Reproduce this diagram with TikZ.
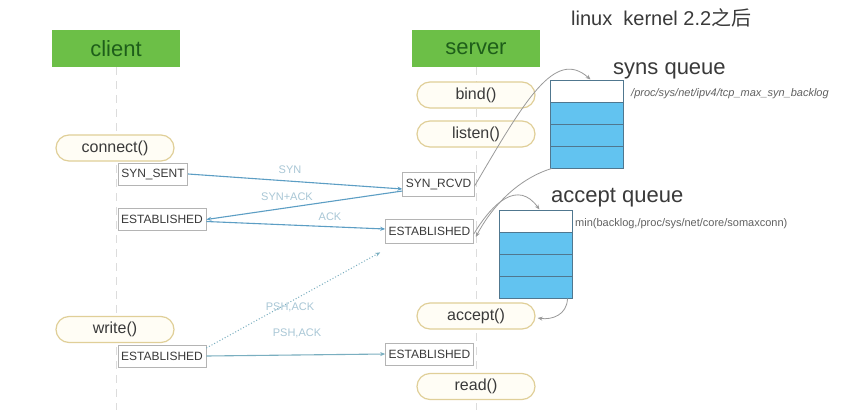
\documentclass[tikz,border=0pt]{standalone}
\usepackage{fontspec}
\setmainfont{Liberation Sans}
\newfontfamily\cjk{Noto Sans CJK SC}
\usetikzlibrary{arrows.meta,backgrounds}
\definecolor{hdrgreen}{HTML}{6CBF47}
\definecolor{hdrtext}{HTML}{1E5E1A}
\definecolor{pillborder}{HTML}{E0CF98}
\definecolor{pillfill}{HTML}{FFFDF5}
\definecolor{boxborder}{HTML}{B4B4B4}
\definecolor{txtdark}{HTML}{3A3A3A}
\definecolor{arrowblue}{HTML}{5C9EC4}
\definecolor{arrowteal}{HTML}{7AAFC0}
\definecolor{lblblue}{HTML}{A9C7D6}
\definecolor{qblue}{HTML}{62C3F0}
\definecolor{qborder}{HTML}{50778F}
\definecolor{curvegray}{HTML}{9A9A9A}
\definecolor{lifeline}{HTML}{DCDCDC}
\newcommand{\fs}[1]{\fontsize{#1}{#1}\selectfont}
\tikzset{
  hdr/.style={fill=hdrgreen, draw=none, minimum width=128pt, minimum height=37pt, inner sep=0pt, text=hdrtext, font=\fs{22}},
  pill/.style={fill=pillfill, draw=pillborder, line width=1.2pt, rounded corners=13pt, minimum width=118pt, minimum height=26pt, inner sep=0pt, text=txtdark, font=\fs{16}},
  statebox/.style={fill=white, draw=boxborder, line width=0.8pt, minimum height=22pt, inner xsep=3pt, inner ysep=0pt, text=txtdark, font=\fs{12}},
  msg/.style={draw=arrowblue, line width=1.1pt, -{Stealth[length=5pt,width=4pt]}},
  msglbl/.style={text=lblblue, font=\fs{11}, inner sep=0pt},
  gcurve/.style={draw=curvegray, line width=0.8pt, -{Stealth[length=5pt,width=4pt]}},
  qtitle/.style={font=\fs{22}, text=txtdark, inner sep=0pt},
  qnote/.style={font=\fs{11}\itshape, text=txtdark!80, inner sep=0pt},
  life/.style={draw=lifeline, line width=1pt, dash pattern=on 8pt off 6pt},
}
\begin{document}
\begin{tikzpicture}[x=1pt,y=-1pt]
\useasboundingbox (0,0) rectangle (852,410);

% headers
\node[hdr] (client) at (116,48.5) {client};
\node[hdr] (server) at (476,48.5) {server};
\node[anchor=west, inner sep=0pt, text=txtdark, font=\fs{20}] (title) at (571,18) {linux\ \ kernel 2.2{\cjk 之后}};

% end points of lifelines
\coordinate (cend) at (116,410);
\coordinate (send) at (476,410);

% pills
\node[pill] (bind) at (476,95) {bind()};
\node[pill] (listen) at (476,134) {listen()};
\node[pill] (connect) at (115,148) {connect()};
\node[pill] (accept) at (476,316) {accept()};
\node[pill] (write) at (115,329.5) {write()};
\node[pill] (read) at (476,386.5) {read()};

% state boxes
\node[statebox] (synsent) at (153,174) {SYN\_SENT};
\node[statebox] (cest1) at (162,219.5) {ESTABLISHED};
\node[statebox, minimum height=24pt] (synrcvd) at (438.5,184) {SYN\_RCVD};
\node[statebox, minimum height=24pt] (sest1) at (429.5,231) {ESTABLISHED};
\node[statebox] (cest2) at (162,356) {ESTABLISHED};
\node[statebox] (sest2) at (429.5,354) {ESTABLISHED};

% queues
\node[draw=qborder, line width=1pt, minimum width=73pt, minimum height=88pt, inner sep=0pt] (synq) at (586.5,124) {};
\node[draw=qborder, line width=1pt, minimum width=73pt, minimum height=88pt, inner sep=0pt] (accq) at (535.5,254) {};
\fill[qblue] (550,102) rectangle (623,168);
\fill[qblue] (499,232) rectangle (572,298);
\draw[qborder, line width=1pt] (550,80) rectangle (623,168)
  (550,102) -- (623,102) (550,124) -- (623,124) (550,146) -- (623,146);
\draw[qborder, line width=1pt] (499,210) rectangle (572,298)
  (499,232) -- (572,232) (499,254) -- (572,254) (499,276) -- (572,276);

\node[qtitle, anchor=west] (synqt) at (613,71) {syns queue};
\node[qnote, anchor=west] (synqn) at (631,94) {/proc/sys/net/ipv4/tcp\_max\_syn\_backlog};
\node[qnote, anchor=west, font=\fs{11}] (accqn) at (575,224) {min(backlog,/proc/sys/net/core/somaxconn)};
\node[qtitle, anchor=west] (accqt) at (551,198) {accept queue};

% background and lifelines
\begin{scope}[on background layer]
\fill[white] (0,0) rectangle (852,410);
\draw[life] (client.south) -- (cend);
\draw[life] (server.south) -- (send);
\end{scope}

% messages
\draw[msg] (synsent.east) -- ([yshift=-5pt]synrcvd.west);
\draw[msg] ([yshift=-7pt]synrcvd.west) -- (cest1.east);
\draw[msg] ([yshift=-2pt]cest1.east) -- ([yshift=2pt]sest1.west);
\draw[draw=arrowteal, line width=1pt, dotted, -{Stealth[length=5pt,width=4pt]}] ([yshift=8pt]cest2.east) -- ([xshift=-5pt,yshift=-9pt]sest1.south west);
\draw[draw=arrowteal, line width=1.1pt, -{Stealth[length=5pt,width=4pt]}] (cest2.east) -- (sest2.west);

\node[msglbl] (lsyn) at (290,170) {SYN};
\node[msglbl] (lsynack) at (287,197) {SYN+ACK};
\node[msglbl] (lack) at (330,217) {ACK};
\node[msglbl] (lpsh1) at (290,307) {PSH,ACK};
\node[msglbl] (lpsh2) at (297,333) {PSH,ACK};

% gray curves
\draw[gcurve] ([yshift=-2pt]synrcvd.east) .. controls (525,100) and (555,48) .. ([xshift=4pt]synq.north);
\draw[gcurve] ([xshift=2pt]synq.south west) .. controls (515,180) and (490,210) .. ([xshift=2pt,yshift=-6pt]sest1.east);
\draw[gcurve] ([yshift=-3pt]sest1.east) .. controls (493,202) and (518,180) .. ([xshift=4pt]accq.north);
\draw[gcurve] ([xshift=-5pt]accq.south east) .. controls (567,315) and (552,320) .. ([xshift=2pt,yshift=-2pt]accept.east);
\end{tikzpicture}
\end{document}
